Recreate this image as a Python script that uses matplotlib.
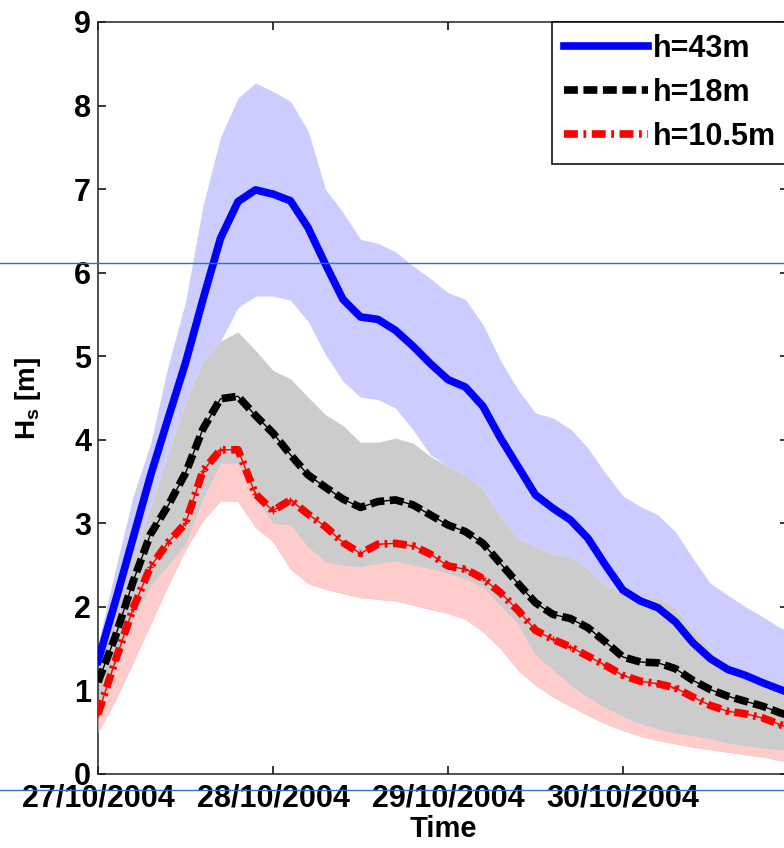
import matplotlib
matplotlib.use("Agg")
import matplotlib.pyplot as plt
from matplotlib.lines import Line2D

plt.rcParams['font.family'] = ['Liberation Sans', 'DejaVu Sans']
plt.rcParams['font.weight'] = 'bold'
plt.rcParams['mathtext.fontset'] = 'custom'
plt.rcParams['mathtext.bf'] = 'Liberation Sans:bold'
plt.rcParams['mathtext.rm'] = 'Liberation Sans:bold'
plt.rcParams['lines.scale_dashes'] = False

# time in days from 27/10/2004 00:00
days = [0.0, 0.1, 0.2, 0.3, 0.4, 0.5, 0.6, 0.7, 0.8, 0.9,
        1.0, 1.1, 1.2, 1.3, 1.4, 1.5, 1.6, 1.7, 1.8, 1.9,
        2.0, 2.1, 2.2, 2.3, 2.4, 2.5, 2.6, 2.7, 2.8, 2.9,
        3.0, 3.1, 3.2, 3.3, 3.4, 3.5, 3.6, 3.7, 3.8, 3.9, 3.95]

# h=43m
hs_43 = [1.35, 2.07, 2.82, 3.57, 4.25, 4.92, 5.68, 6.41, 6.85, 6.99,
         6.94, 6.86, 6.54, 6.10, 5.68, 5.47, 5.44, 5.31, 5.12, 4.91,
         4.72, 4.63, 4.40, 4.02, 3.68, 3.34, 3.18, 3.04, 2.82, 2.50,
         2.20, 2.07, 1.99, 1.82, 1.57, 1.38, 1.25, 1.18, 1.09, 1.01, 0.97]
hs_43_hi = [1.56, 2.45, 3.32, 3.95, 4.88, 5.65, 6.80, 7.62, 8.09, 8.27,
            8.17, 8.05, 7.70, 7.00, 6.72, 6.40, 6.35, 6.25, 6.08, 5.93,
            5.76, 5.68, 5.38, 4.95, 4.60, 4.32, 4.26, 4.13, 3.90, 3.60,
            3.33, 3.20, 3.10, 2.90, 2.58, 2.28, 2.14, 2.00, 1.88, 1.75, 1.70]
hs_43_lo = [1.25, 1.95, 2.60, 3.20, 3.85, 4.45, 4.95, 5.18, 5.58, 5.72,
            5.72, 5.67, 5.42, 5.02, 4.70, 4.51, 4.48, 4.38, 4.12, 3.82,
            3.68, 3.58, 3.40, 3.07, 2.82, 2.72, 2.63, 2.60, 2.45, 2.26,
            2.17, 2.10, 2.12, 1.98, 1.72, 1.48, 1.28, 1.15, 1.04, 0.96, 0.92]

# h=18m
hs_18 = [1.10, 1.65, 2.30, 2.87, 3.21, 3.60, 4.13, 4.49, 4.52, 4.29,
         4.08, 3.82, 3.58, 3.43, 3.29, 3.19, 3.26, 3.28, 3.22, 3.10,
         2.98, 2.90, 2.76, 2.52, 2.28, 2.05, 1.91, 1.86, 1.75, 1.58,
         1.40, 1.34, 1.33, 1.26, 1.12, 1.01, 0.93, 0.87, 0.81, 0.73, 0.70]
hs_18_hi = [1.25, 1.95, 2.60, 3.20, 3.85, 4.45, 4.95, 5.18, 5.29, 5.07,
            4.83, 4.73, 4.51, 4.30, 4.17, 3.97, 3.97, 4.02, 3.96, 3.80,
            3.68, 3.58, 3.40, 3.07, 2.82, 2.72, 2.63, 2.60, 2.45, 2.26,
            2.17, 2.10, 2.12, 1.98, 1.72, 1.48, 1.28, 1.15, 1.04, 0.96, 0.92]

# h=10.5m
hs_10 = [0.72, 1.36, 1.98, 2.48, 2.77, 3.00, 3.63, 3.88, 3.88, 3.35,
         3.15, 3.28, 3.11, 2.96, 2.77, 2.64, 2.75, 2.76, 2.73, 2.63,
         2.49, 2.45, 2.34, 2.17, 1.96, 1.72, 1.61, 1.52, 1.41, 1.30,
         1.18, 1.11, 1.08, 1.03, 0.92, 0.82, 0.75, 0.72, 0.67, 0.59, 0.55]
hs_10_hi = [0.70, 1.25, 1.85, 2.25, 2.50, 2.75, 3.30, 3.72, 3.72, 3.30,
            3.00, 2.98, 2.72, 2.54, 2.50, 2.48, 2.52, 2.55, 2.50, 2.46,
            2.40, 2.34, 2.23, 2.02, 1.80, 1.42, 1.25, 1.06, 0.92, 0.79,
            0.69, 0.60, 0.54, 0.49, 0.46, 0.42, 0.37, 0.34, 0.31, 0.29, 0.28]
hs_10_lo = [0.50, 0.88, 1.33, 1.79, 2.25, 2.68, 3.03, 3.27, 3.26, 2.95,
            2.78, 2.45, 2.28, 2.21, 2.16, 2.11, 2.09, 2.07, 2.02, 1.97,
            1.92, 1.85, 1.70, 1.50, 1.24, 1.06, 0.92, 0.81, 0.70, 0.60,
            0.52, 0.45, 0.40, 0.36, 0.32, 0.29, 0.26, 0.23, 0.20, 0.16, 0.15]

tick_days = [0, 1, 2, 3]
tick_labels = ['27/10/2004', '28/10/2004', '29/10/2004', '30/10/2004']

fig = plt.figure(figsize=(7.84, 8.48), dpi=100)
ax = fig.add_axes([0.125, 0.0873, 0.880, 0.8868])

# bands
ax.fill_between(days, hs_43_lo, hs_43_hi, color='#ccccff', lw=0, zorder=1)
ax.fill_between(days, hs_10_lo, hs_18_hi, color='#cccccc', lw=0, zorder=2)
ax.fill_between(days, hs_10_lo, hs_10_hi, color='#ffcccc', lw=0, zorder=3)

# lines
ax.plot(days, hs_43, color='#0000ff', lw=5.5, label='h=43m', zorder=6)
ax.plot(days, hs_18, color='k', lw=1, zorder=5)
ax.plot(days, hs_18, color='k', lw=5.5, dashes=(10, 4), label='h=18m', zorder=5)
ax.plot(days, hs_10, color='#ff0000', lw=1, marker='+', ms=5, mew=1, zorder=4)
ax.plot(days, hs_10, color='#ff0000', lw=5.5, dashes=(10, 4, 2, 4), label='h=10.5m', zorder=4)

ax.set_xlim(0, 3.943)
ax.set_ylim(0, 9)
ax.set_yticks(range(10))
ax.set_xticks(tick_days)
ax.set_xticklabels(tick_labels)
ax.tick_params(direction='in', length=6, width=1.1, labelsize=22,
               top=True, right=True, pad=5)
ax.tick_params(axis='x', pad=7)
for s in ax.spines.values():
    s.set_linewidth(1.1)
    s.set_color('#222222')

ax.set_xlabel('Time', fontsize=21, fontweight='bold', labelpad=1)
ax.set_ylabel(r'$\mathbf{H_s}$ [m]', fontsize=20, fontweight='bold', labelpad=22)

leg = ax.legend(loc='upper right', bbox_to_anchor=(1, 1), borderaxespad=0,
                fontsize=22, handlelength=2.75, handletextpad=0.15,
                borderpad=0.4, labelspacing=0.45, fancybox=False,
                framealpha=1, edgecolor='k')
leg.get_frame().set_linewidth(1.1)

# thin horizontal guide lines present across the reference image
for yy in [1 - 263 / 848, 1 - 790 / 848]:
    fig.add_artist(Line2D([0, 1], [yy, yy], transform=fig.transFigure,
                          color='#2e75b6', lw=1.0, zorder=10))

fig.savefig('out.png', dpi=100)
